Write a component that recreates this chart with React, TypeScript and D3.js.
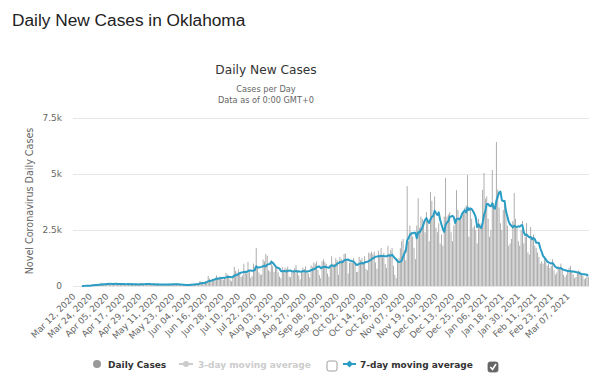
import React from "react";
import * as d3 from "d3";

const DAILY_CASES: number[] = [
  1, 1, 2, 3, 2, 5, 4,
  9, 14, 7, 14, 25, 17, 58,
  84, 26, 74, 52, 48, 36, 154,
  87, 108, 89, 89, 72, 115, 105,
  78, 102, 134, 74, 53, 66, 132,
  74, 108, 80, 73, 62, 101, 66,
  102, 97, 75, 51, 59, 55, 95,
  132, 107, 72, 70, 95, 55, 124,
  69, 94, 67, 45, 52, 68, 96,
  77, 85, 57, 46, 42, 76, 80,
  107, 82, 93, 60, 68, 68, 103,
  52, 45, 39, 35, 30, 45, 60,
  73, 84, 69, 72, 88, 105, 85,
  125, 222, 174, 115, 108, 228, 186,
  450, 331, 250, 240, 258, 347, 482,
  369, 419, 352, 302, 282, 381, 585,
  509, 456, 280, 212, 384, 858, 673,
  596, 743, 528, 406, 458, 993, 689,
  549, 1075, 679, 370, 440, 1001, 858,
  1700, 803, 602, 497, 520, 1180, 1100,
  1430, 1350, 700, 650, 1150, 900, 630,
  830, 900, 610, 420, 350, 850, 700,
  820, 760, 870, 420, 390, 600, 710,
  800, 930, 680, 470, 300, 650, 820,
  760, 880, 660, 560, 380, 920, 850,
  1050, 990, 1100, 720, 480, 350, 1100,
  1200, 1080, 990, 560, 420, 900, 1330,
  1000, 980, 1250, 1150, 500, 1300, 1200,
  1140, 1430, 1450, 1180, 560, 1030, 1080,
  1050, 1250, 980, 620, 640, 1300, 1150,
  1250, 1070, 1330, 760, 700, 1490, 1450,
  1530, 1420, 1530, 1050, 770, 1580, 1400,
  1700, 1360, 1480, 980, 800, 1790, 1440,
  1600, 1700, 900, 500, 350, 1200, 1250,
  1680, 2000, 2100, 1600, 1150, 4460, 2000,
  2700, 2400, 2200, 1700, 1200, 2700, 3920,
  2600, 3100, 3000, 2900, 2400, 3300, 3000,
  2000, 4200, 3800, 3200, 4000, 2600, 2400,
  2800, 1900, 2300, 1800, 3100, 4820, 3100,
  3200, 3300, 2400, 2000, 2700, 3000, 4280,
  3400, 3000, 3000, 3200, 3300, 3500, 3600,
  4950, 2200, 3500, 3000, 2600, 2700, 2500,
  1900, 3000, 2800, 2600, 4300, 5040, 3900,
  4000, 3000, 2200, 2500, 5180, 3700, 3600,
  6430, 4300, 3500, 2800, 2500, 3400, 3600,
  3300, 2700, 1800, 1900, 2100, 2900, 4150,
  3000, 2600, 2000, 1800, 2500, 2900, 1900,
  2200, 2810, 1500, 1400, 2630, 2200, 2300,
  1800, 1700, 1500, 1300, 1000, 1100, 1000,
  1300, 1100, 900, 1000, 800, 900, 1200,
  700, 500, 600, 900, 750, 1000, 800,
  500, 400, 500, 700, 800, 900, 700,
  500, 350, 400, 600, 700, 650, 550,
  450, 300, 350, 500, 400,
];

const TICK_EVERY = 12;
const TICK_LABELS: string[] = [
  "Mar 12, 2020", "Mar 24, 2020", "Apr 05, 2020", "Apr 17, 2020", "Apr 29, 2020",
  "May 11, 2020", "May 23, 2020", "Jun 04, 2020", "Jun 16, 2020", "Jun 28, 2020",
  "Jul 10, 2020", "Jul 22, 2020", "Aug 03, 2020", "Aug 15, 2020", "Aug 27, 2020",
  "Sep 08, 2020", "Sep 20, 2020", "Oct 02, 2020", "Oct 14, 2020", "Oct 26, 2020",
  "Nov 07, 2020", "Nov 19, 2020", "Dec 01, 2020", "Dec 13, 2020", "Dec 25, 2020",
  "Jan 06, 2021", "Jan 18, 2021", "Jan 30, 2021", "Feb 11, 2021", "Feb 23, 2021",
  "Mar 07, 2021",
];

const Y_TICKS: number[] = [0, 2500, 5000, 7500];
const Y_TICK_LABELS: string[] = ["0", "2.5k", "5k", "7.5k"];
const MA_WINDOW = 7;

const FONT = "'DejaVu Sans', Verdana, sans-serif";
const LINE_COLOR = "#2b9dc4";

export default function App() {
  const N = DAILY_CASES.length;
  const idx = d3.range(N);
  const x = d3
    .scaleBand<number>()
    .domain(idx)
    .range([73, 589])
    .paddingInner(0.36)
    .paddingOuter(0.18);
  const cx = (i: number) => (x(i) as number) + x.bandwidth() / 2;
  const y = d3.scaleLinear().domain([0, 7500]).range([286, 118]);

  // 7-day trailing moving average of the daily series
  const ma: [number, number][] = [];
  for (let i = MA_WINDOW - 1; i < N; i++) {
    const m = d3.mean(DAILY_CASES.slice(i - MA_WINDOW + 1, i + 1)) as number;
    ma.push([i, m]);
  }
  const line = d3
    .line<[number, number]>()
    .x((d) => cx(d[0]))
    .y((d) => y(d[1]))
    .curve(d3.curveLinear);

  const legendY = 364;

  return (
    <svg
      width={600}
      height={388}
      style={{ position: "absolute", left: 0, top: 0, background: "#fff" }}
      fontFamily={FONT}
    >
      <text
        x={12}
        y={25.5}
        fontFamily="'Liberation Sans', Arial, sans-serif"
        fontSize={17.3}
        fill="#222"
      >
        Daily New Cases in Oklahoma
      </text>

      <text x={266} y={74} textAnchor="middle" fontSize={12.2} fill="#333">
        Daily New Cases
      </text>
      <text x={266} y={91.5} textAnchor="middle" fontSize={8.2} fill="#666">
        Cases per Day
      </text>
      <text x={266} y={103} textAnchor="middle" fontSize={8.2} fill="#666">
        Data as of 0:00 GMT+0
      </text>

      {/* grid */}
      {Y_TICKS.map((t, k) => (
        <g key={t}>
          <line x1={73} x2={589} y1={y(t) + 0.5} y2={y(t) + 0.5} stroke="#e6e6e6" strokeWidth={1} />
          <text x={62} y={y(t)} dy="0.34em" textAnchor="end" fontSize={9} fill="#666">
            {Y_TICK_LABELS[k]}
          </text>
        </g>
      ))}

      <text
        transform={`translate(33,201) rotate(-90)`}
        textAnchor="middle"
        fontSize={9.6}
        fill="#666"
      >
        Novel Coronavirus Daily Cases
      </text>

      {/* bars */}
      {idx.map((i) => (
        <rect
          key={i}
          x={x(i)}
          y={y(DAILY_CASES[i])}
          width={x.bandwidth()}
          height={y(0) - y(DAILY_CASES[i])}
          fill="#a3a3a3"
        />
      ))}

      {/* 7-day moving average */}
      <path d={line(ma) || ""} fill="none" stroke={LINE_COLOR} strokeWidth={2} strokeLinejoin="round" />

      {/* x labels */}
      {TICK_LABELS.map((lab, k) => {
        const xi = cx(k * TICK_EVERY) + 2.5;
        return (
          <text
            key={lab}
            transform={`translate(${xi},297) rotate(-45)`}
            textAnchor="end"
            fontSize={8.8}
            fill="#666"
          >
            {lab}
          </text>
        );
      })}

      {/* legend */}
      <circle cx={97} cy={legendY} r={4} fill="#999" />
      <text x={108} y={legendY + 3.5} fontSize={9} fontWeight="bold" fill="#333">
        Daily Cases
      </text>

      <line x1={179} x2={193} y1={legendY} y2={legendY} stroke="#ccc" strokeWidth={2} />
      <circle cx={186} cy={legendY} r={3} fill="#ccc" />
      <text x={198} y={legendY + 3.5} fontSize={9} fontWeight="bold" fill="#ccc">
        3-day moving average
      </text>
      <rect x={327} y={361} width={10} height={10} rx={2} fill="#fff" stroke="#888" strokeWidth={0.8} />

      <line x1={343} x2={356} y1={legendY} y2={legendY} stroke={LINE_COLOR} strokeWidth={2} />
      <path d={`M349.5,${legendY - 3.5} L353,${legendY} L349.5,${legendY + 3.5} L346,${legendY} Z`} fill={LINE_COLOR} />
      <text x={360} y={legendY + 3.5} fontSize={9} fontWeight="bold" fill="#333">
        7-day moving average
      </text>
      <rect x={488} y={362} width={10} height={10} rx={2} fill="#666" stroke="#666" strokeWidth={0.8} />
      <path d="M490.3,367 L492.5,369.4 L496,364" fill="none" stroke="#fff" strokeWidth={1.6} />
    </svg>
  );
}
